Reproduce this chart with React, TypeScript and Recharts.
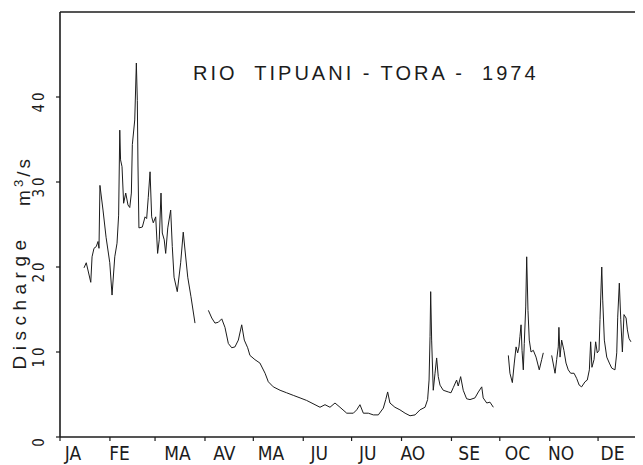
import React from "react";
import { LineChart, Line, XAxis, YAxis, ReferenceLine } from "recharts";

// day of year (0 = 1 Jan) and daily discharge in m3/s, one pair of arrays per unbroken stretch of record
const janMarDay = [14.9, 16.3, 19.1, 19.9, 21.1, 22.5, 23.6, 24.2, 24.8, 26.7, 28.6, 30.9, 32.3, 34.0, 35.4, 36.4, 37.1, 37.6, 38.5, 39.5, 40.8, 42.2, 43.3, 44.3, 44.9, 46.4, 47.4, 48.0, 48.4, 49.0, 51.1, 52.8, 53.8, 54.8, 55.9, 56.9, 57.9, 59.4, 60.6, 61.6, 62.7, 63.5, 64.7, 65.6, 66.9, 68.7, 69.7, 70.8, 72.8, 74.9, 76.5, 77.6, 79.3, 81.3, 83.8];
const janMarQ = [19.9, 20.5, 18.2, 21.2, 22.2, 22.4, 23, 22.2, 29.6, 26.7, 23.5, 20.5, 16.7, 21.2, 22.8, 26.1, 36.1, 32.6, 31.8, 27.5, 28.7, 27.3, 27, 28.7, 34.4, 37.3, 44, 39.6, 32, 24.6, 24.7, 25.9, 25.7, 28.2, 31.2, 25.9, 25.2, 25.9, 21.6, 23.2, 28.7, 24, 23.2, 21.6, 24.6, 26.7, 22.4, 18.8, 17.1, 20.5, 24.1, 22, 18.8, 16.5, 13.4];

const aprSepDay = [92.1, 94.2, 96.2, 98.3, 100.4, 102.4, 104.5, 106.6, 108.6, 110.7, 112.8, 114.4, 116.5, 117.9, 121.0, 124.1, 127.3, 129.3, 132.4, 136.6, 140.7, 144.8, 149.0, 153.1, 158.3, 161.4, 164.5, 167.6, 170.7, 173.8, 178.0, 182.1, 184.2, 186.2, 188.3, 191.4, 194.5, 197.6, 200.7, 202.2, 203.4, 204.8, 207.9, 211.0, 214.2, 217.3, 220.4, 223.5, 226.6, 228.2, 229.1, 229.7, 230.1, 230.7, 231.7, 232.8, 233.8, 234.8, 235.9, 237.9, 241.0, 242.7, 244.1, 246.2, 247.2, 248.7, 250.3, 252.4, 254.5, 257.6, 259.7, 261.8, 262.7, 264.9, 266.9, 269.0];
const aprSepQ = [14.9, 14, 13.4, 13.5, 13.9, 12.9, 11, 10.5, 10.6, 11.4, 13.2, 11.4, 10.5, 9.6, 9.1, 8.7, 7.5, 6.5, 5.9, 5.5, 5.2, 4.9, 4.6, 4.3, 3.8, 3.5, 3.8, 3.5, 4, 3.5, 2.8, 2.8, 3.2, 3.8, 2.8, 2.8, 2.6, 2.6, 3.4, 4.4, 5.3, 4, 3.5, 3.2, 2.8, 2.5, 2.6, 3.2, 3.5, 4.4, 6.7, 11.8, 17.1, 11.4, 5.5, 7.5, 9.3, 7.1, 6.1, 5.5, 5.3, 5.2, 5.8, 6.7, 6.0, 7.1, 5.5, 4.5, 4.4, 4.6, 5.3, 5.9, 4.6, 4, 4.1, 3.5];

const octDay = [278.3, 279.3, 280.8, 282.0, 283.1, 284.1, 284.9, 285.5, 286.2, 286.8, 287.6, 288.2, 289.1, 289.7, 290.5, 291.3, 292.4, 293.8, 295.5, 297.5, 299.0, 300.0];
const octQ = [9.6, 7.5, 6.4, 8.7, 10.6, 9.9, 10.6, 11.8, 13.2, 10.2, 7.9, 11, 15.3, 21.2, 14.9, 11.4, 10, 10.2, 9.4, 7.9, 9.1, 9.9];

const novDecDay = [305.2, 307.3, 308.3, 309.3, 309.7, 310.4, 311.4, 312.8, 314.1, 315.5, 317.0, 319.1, 320.7, 322.3, 323.8, 325.9, 327.3, 328.6, 329.4, 330.2, 331.5, 332.5, 333.5, 334.6, 335.2, 336.3, 336.9, 337.9, 339.4, 341.0, 342.5, 344.5, 345.6, 346.2, 347.2, 348.1, 349.1, 350.1, 351.4, 352.2, 353.2, 354.4];
const novDecQ = [9.6, 7.5, 9.1, 10.6, 12.9, 9.4, 11.4, 10.2, 8.7, 7.9, 7.5, 7.5, 6.9, 6.1, 5.9, 6.5, 6.7, 7.9, 11.2, 8.2, 9.1, 11.2, 9.9, 10.2, 13.8, 20, 16.1, 11.4, 9.4, 8.7, 8.1, 7.9, 9.9, 14.1, 18.1, 13.8, 10, 14.4, 14, 12.6, 11.6, 11.2];

const monthStarts = [0, 31, 59, 90, 120, 151, 181, 212, 243, 273, 304, 334];
const monthLabels = ["JA", "FE", "MA", "AV", "MA", "JU", "JU", "AO", "SE", "OC", "NO", "DE"];
const monthLabelDays = [8, 37, 73, 102, 131, 161, 191, 219, 254, 284, 311, 343];
const qTicks = [0, 10, 20, 30, 40];

const segments: [number[], number[]][] = [
  [janMarDay, janMarQ],
  [aprSepDay, aprSepQ],
  [octDay, octQ],
  [novDecDay, novDecQ],
];

// join the stretches, with a null between them so the line breaks at the gaps
const data: { day: number; q: number | null }[] = [];
segments.forEach(([d, q], s) => {
  if (s > 0) {
    const prev = segments[s - 1][0];
    data.push({ day: (prev[prev.length - 1] + d[0]) / 2, q: null });
  }
  d.forEach((day, i) => data.push({ day, q: q[i] }));
});

const INK = "#1c1c1c";
const SANS = "'Liberation Sans', Arial, Helvetica, sans-serif";
const NARROW = "'Liberation Sans Narrow', 'DejaVu Sans Condensed', " + SANS;

function MonthTick(props: any) {
  const { x, y, payload } = props;
  const i = monthLabelDays.indexOf(payload.value);
  if (i >= 0) {
    return (
      <text x={x} y={y + 23} textAnchor="middle" fontFamily={NARROW} fontSize={19} fill={INK}>
        {monthLabels[i]}
      </text>
    );
  }
  return <line x1={x} x2={x} y1={y} y2={y + 4} stroke={INK} strokeWidth={1.2} />;
}

function QTick(props: any) {
  const { x, y, payload } = props;
  // labels are printed sideways, reading upwards
  return (
    <g transform={`translate(${x - 15} ${y + 4}) rotate(-90)`}>
      <text
        x={0}
        y={0}
        textAnchor="middle"
        dominantBaseline="central"
        fontFamily={NARROW}
        fontSize={15}
        letterSpacing={3}
        fill={INK}
      >
        {payload.value}
      </text>
    </g>
  );
}

export default function App() {
  return (
    <div style={{ width: 635, height: 457, overflow: "hidden", background: "#fff" }}>
      <LineChart width={640} height={457} data={data} margin={{ top: 4, right: 0, bottom: 0, left: 0 }}>
        <XAxis
          dataKey="day"
          type="number"
          domain={[0, 365]}
          ticks={[...monthStarts, ...monthLabelDays]}
          interval={0}
          tick={MonthTick}
          tickLine={false}
          tickSize={0}
          tickMargin={0}
          height={28}
          axisLine={{ stroke: INK, strokeWidth: 1.6 }}
        />
        <YAxis
          type="number"
          domain={[0, 50]}
          ticks={qTicks}
          interval={0}
          width={52}
          tick={QTick}
          tickSize={4}
          tickMargin={2}
          tickLine={{ stroke: INK, strokeWidth: 1.2 }}
          axisLine={{ stroke: INK, strokeWidth: 1.6 }}
        />
        <ReferenceLine y={50} stroke={INK} strokeWidth={1.4} />
        <Line
          type="linear"
          dataKey="q"
          stroke={INK}
          strokeWidth={1}
          dot={false}
          connectNulls={false}
          isAnimationActive={false}
        />
        <text
          x={185}
          y={72}
          fontFamily={SANS}
          fontSize={20}
          letterSpacing={3}
          fill={INK}
          style={{ whiteSpace: "pre" }}
        >
          {"RIO  TIPUANI - TORA -  1974"}
        </text>
        <g transform="translate(11 294) rotate(-90)">
          <text
            x={0}
            y={0}
            textAnchor="middle"
            dominantBaseline="central"
            fontFamily={SANS}
            fontSize={19}
            letterSpacing={5.5}
            fill={INK}
          >
            Discharge
          </text>
        </g>
        <g transform="translate(15 173) rotate(-90)">
          <text
            x={0}
            y={0}
            textAnchor="middle"
            dominantBaseline="central"
            fontFamily={SANS}
            fontSize={19}
            letterSpacing={3}
            fill={INK}
          >
            m<tspan dy={-5} fontSize={13}>3</tspan>
            <tspan dy={5}>/s</tspan>
          </text>
        </g>
      </LineChart>
    </div>
  );
}
